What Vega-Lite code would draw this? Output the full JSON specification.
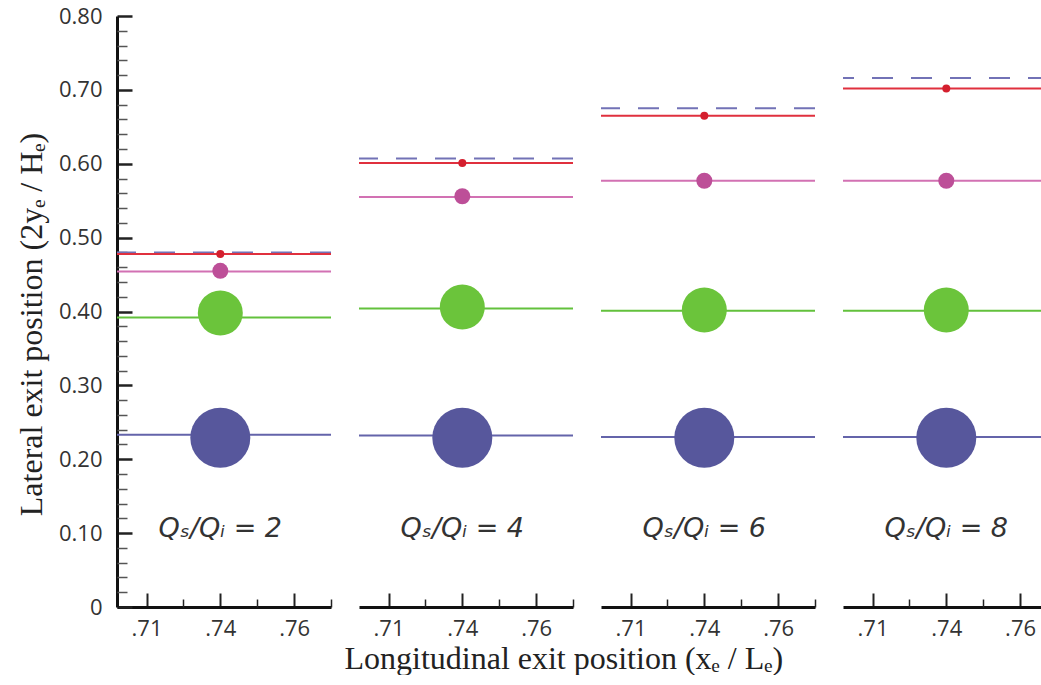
{
  "$schema": "https://vega.github.io/schema/vega-lite/v6.json",
  "padding": {"left": 15, "top": 5, "right": 0, "bottom": 0},
  "background": "white",
  "title": {"text": "Longitudinal exit position (xₑ / Lₑ)", "orient": "bottom", "anchor": "middle", "font": "Liberation Serif", "fontSize": 32, "fontWeight": "normal", "color": "#222", "offset": 5, "dx": 31},
  "datasets": {
    "lines": [
      {"ratio": 2, "series": "ref", "line": 0.480},
      {"ratio": 2, "series": "red", "line": 0.478, "dot": 0.478, "x": 0.735},
      {"ratio": 2, "series": "pink", "line": 0.454, "dot": 0.455, "x": 0.735},
      {"ratio": 2, "series": "green", "line": 0.392, "dot": 0.398, "x": 0.735},
      {"ratio": 2, "series": "blue", "line": 0.233, "dot": 0.229, "x": 0.735},
      {"ratio": 4, "series": "ref", "line": 0.607},
      {"ratio": 4, "series": "red", "line": 0.601, "dot": 0.601, "x": 0.735},
      {"ratio": 4, "series": "pink", "line": 0.555, "dot": 0.556, "x": 0.735},
      {"ratio": 4, "series": "green", "line": 0.404, "dot": 0.406, "x": 0.735},
      {"ratio": 4, "series": "blue", "line": 0.232, "dot": 0.229, "x": 0.735},
      {"ratio": 6, "series": "ref", "line": 0.675},
      {"ratio": 6, "series": "red", "line": 0.665, "dot": 0.665, "x": 0.735},
      {"ratio": 6, "series": "pink", "line": 0.577, "dot": 0.577, "x": 0.735},
      {"ratio": 6, "series": "green", "line": 0.401, "dot": 0.402, "x": 0.735},
      {"ratio": 6, "series": "blue", "line": 0.230, "dot": 0.229, "x": 0.735},
      {"ratio": 8, "series": "ref", "line": 0.716},
      {"ratio": 8, "series": "red", "line": 0.702, "dot": 0.702, "x": 0.735},
      {"ratio": 8, "series": "pink", "line": 0.577, "dot": 0.577, "x": 0.735},
      {"ratio": 8, "series": "green", "line": 0.401, "dot": 0.402, "x": 0.735},
      {"ratio": 8, "series": "blue", "line": 0.230, "dot": 0.229, "x": 0.735}
    ],
    "labels": [
      {"ratio": 2, "label": "Qₛ/Qᵢ = 2", "x": 0.735, "y": 0.105},
      {"ratio": 4, "label": "Qₛ/Qᵢ = 4", "x": 0.735, "y": 0.105},
      {"ratio": 6, "label": "Qₛ/Qᵢ = 6", "x": 0.735, "y": 0.105},
      {"ratio": 8, "label": "Qₛ/Qᵢ = 8", "x": 0.735, "y": 0.105}
    ]
  },
  "spacing": 26,
  "hconcat": [
    {
      "width": 214, "height": 591,
      "resolve": {"axis": {"x": "independent", "y": "independent"}},
      "layer": [
        {
          "data": {"name": "lines"},
          "transform": [{"filter": "datum.ratio == 2"}],
          "mark": {"type": "rule", "strokeWidth": 2},
          "encoding": {
            "y": {"field": "line", "type": "quantitative", "scale": {"domain": [0, 0.8]},
              "axis": {
                "orient": "left",
                "values": [0, 0.1, 0.2, 0.3, 0.4, 0.5, 0.6, 0.7, 0.8],
                "labelExpr": "datum.value == 0 ? '0' : format(datum.value, '.2f')",
                "labelOverlap": false,
                "labelFont": "Open Sans", "labelFontSize": 22, "labelColor": "#333",
                "labelPadding": 30,
                "tickSize": -15, "tickWidth": 2.5, "tickColor": "#222",
                "domainColor": "#111", "domainWidth": 3,
                "grid": false,
                "title": "Lateral exit position (2yₑ / Hₑ)",
                "titleFont": "Liberation Serif", "titleFontSize": 32, "titleFontWeight": "normal", "titleColor": "#222", "titlePadding": 10,
                "titleY": 308
              }},
            "stroke": {"field": "series", "type": "nominal", "legend": null,
              "scale": {"domain": ["ref", "red", "pink", "green", "blue"], "range": ["#7272b6", "#e0303e", "#d271b3", "#63c13c", "#6464aa"]}},
            "strokeDash": {"field": "series", "type": "nominal", "legend": null,
              "scale": {"domain": ["ref", "red", "pink", "green", "blue"], "range": [[21, 18], [1, 0], [1, 0], [1, 0], [1, 0]]}}
          }
        },
        {
          "data": {"name": "lines"},
          "transform": [{"filter": "datum.ratio == 2 && isValid(datum.dot)"}],
          "mark": {"type": "circle", "opacity": 1},
          "encoding": {
            "x": {"field": "x", "type": "quantitative", "scale": {"domain": [0.70, 0.7725]},
              "axis": {
                "orient": "bottom",
                "values": [0.71, 0.735, 0.76],
                "labelExpr": "abs(datum.value-0.71)<0.001 ? '.71' : abs(datum.value-0.735)<0.001 ? '.74' : '.76'",
                "labelOverlap": false,
                "labelFont": "Open Sans", "labelFontSize": 22, "labelColor": "#333",
                "labelPadding": 25,
                "tickSize": -14, "tickWidth": 2, "tickColor": "#222",
                "domainColor": "#111", "domainWidth": 3,
                "grid": false, "title": null
              }},
            "y": {"field": "dot", "type": "quantitative", "scale": {"domain": [0, 0.8]},
              "axis": {
                "orient": "left",
                "values": [0.02,0.04,0.06,0.08,0.12,0.14,0.16,0.18,0.22,0.24,0.26,0.28,0.32,0.34,0.36,0.38,0.42,0.44,0.46,0.48,0.52,0.54,0.56,0.58,0.62,0.64,0.66,0.68,0.72,0.74,0.76,0.78],
                "labels": false, "domain": false, "grid": false, "title": null,
                "tickSize": -10, "tickWidth": 1.5, "tickColor": "#555"
              }},
            "fill": {"field": "series", "type": "nominal", "legend": null,
              "scale": {"domain": ["red", "pink", "green", "blue"], "range": ["#d41f2e", "#bd4f98", "#6bc43b", "#57579c"]}},
            "size": {"field": "series", "type": "nominal", "legend": null,
              "scale": {"type": "ordinal", "domain": ["red", "pink", "green", "blue"], "range": [64, 256, 2025, 3600]}}
          }
        },
        {
          "data": {"name": "labels"},
          "transform": [{"filter": "datum.ratio == 2"}],
          "mark": {"type": "text", "font": "DejaVu Sans", "fontSize": 27, "fontStyle": "italic", "color": "#333", "align": "center", "baseline": "middle"},
          "encoding": {
            "x": {"field": "x", "type": "quantitative", "scale": {"domain": [0.70, 0.7725]},
              "axis": {
                "orient": "bottom",
                "values": [0.7225, 0.7475, 0.7725],
                "labels": false, "domain": false, "grid": false, "title": null,
                "tickSize": -8, "tickWidth": 1.5, "tickColor": "#222"
              }},
            "y": {"field": "y", "type": "quantitative", "scale": {"domain": [0, 0.8]}, "axis": null},
            "text": {"field": "label"}
          }
        }
      ]
    },
    {
      "width": 214, "height": 591,
      "resolve": {"axis": {"x": "independent", "y": "independent"}},
      "layer": [
        {
          "data": {"name": "lines"},
          "transform": [{"filter": "datum.ratio == 4"}],
          "mark": {"type": "rule", "strokeWidth": 2},
          "encoding": {
            "y": {"field": "line", "type": "quantitative", "scale": {"domain": [0, 0.8]}, "axis": null},
            "stroke": {"field": "series", "type": "nominal", "legend": null,
              "scale": {"domain": ["ref", "red", "pink", "green", "blue"], "range": ["#7272b6", "#e0303e", "#d271b3", "#63c13c", "#6464aa"]}},
            "strokeDash": {"field": "series", "type": "nominal", "legend": null,
              "scale": {"domain": ["ref", "red", "pink", "green", "blue"], "range": [[21, 18], [1, 0], [1, 0], [1, 0], [1, 0]]}}
          }
        },
        {
          "data": {"name": "lines"},
          "transform": [{"filter": "datum.ratio == 4 && isValid(datum.dot)"}],
          "mark": {"type": "circle", "opacity": 1},
          "encoding": {
            "x": {"field": "x", "type": "quantitative", "scale": {"domain": [0.70, 0.7725]},
              "axis": {
                "orient": "bottom",
                "values": [0.71, 0.735, 0.76],
                "labelExpr": "abs(datum.value-0.71)<0.001 ? '.71' : abs(datum.value-0.735)<0.001 ? '.74' : '.76'",
                "labelOverlap": false,
                "labelFont": "Open Sans", "labelFontSize": 22, "labelColor": "#333",
                "labelPadding": 25,
                "tickSize": -14, "tickWidth": 2, "tickColor": "#222",
                "domainColor": "#111", "domainWidth": 3,
                "grid": false, "title": null
              }},
            "y": {"field": "dot", "type": "quantitative", "scale": {"domain": [0, 0.8]}, "axis": null},
            "fill": {"field": "series", "type": "nominal", "legend": null,
              "scale": {"domain": ["red", "pink", "green", "blue"], "range": ["#d41f2e", "#bd4f98", "#6bc43b", "#57579c"]}},
            "size": {"field": "series", "type": "nominal", "legend": null,
              "scale": {"type": "ordinal", "domain": ["red", "pink", "green", "blue"], "range": [64, 256, 2025, 3600]}}
          }
        },
        {
          "data": {"name": "labels"},
          "transform": [{"filter": "datum.ratio == 4"}],
          "mark": {"type": "text", "font": "DejaVu Sans", "fontSize": 27, "fontStyle": "italic", "color": "#333", "align": "center", "baseline": "middle"},
          "encoding": {
            "x": {"field": "x", "type": "quantitative", "scale": {"domain": [0.70, 0.7725]},
              "axis": {
                "orient": "bottom",
                "values": [0.7225, 0.7475, 0.7725],
                "labels": false, "domain": false, "grid": false, "title": null,
                "tickSize": -8, "tickWidth": 1.5, "tickColor": "#222"
              }},
            "y": {"field": "y", "type": "quantitative", "scale": {"domain": [0, 0.8]}, "axis": null},
            "text": {"field": "label"}
          }
        }
      ]
    },
    {
      "width": 214, "height": 591,
      "resolve": {"axis": {"x": "independent", "y": "independent"}},
      "layer": [
        {
          "data": {"name": "lines"},
          "transform": [{"filter": "datum.ratio == 6"}],
          "mark": {"type": "rule", "strokeWidth": 2},
          "encoding": {
            "y": {"field": "line", "type": "quantitative", "scale": {"domain": [0, 0.8]}, "axis": null},
            "stroke": {"field": "series", "type": "nominal", "legend": null,
              "scale": {"domain": ["ref", "red", "pink", "green", "blue"], "range": ["#7272b6", "#e0303e", "#d271b3", "#63c13c", "#6464aa"]}},
            "strokeDash": {"field": "series", "type": "nominal", "legend": null,
              "scale": {"domain": ["ref", "red", "pink", "green", "blue"], "range": [[21, 18], [1, 0], [1, 0], [1, 0], [1, 0]]}}
          }
        },
        {
          "data": {"name": "lines"},
          "transform": [{"filter": "datum.ratio == 6 && isValid(datum.dot)"}],
          "mark": {"type": "circle", "opacity": 1},
          "encoding": {
            "x": {"field": "x", "type": "quantitative", "scale": {"domain": [0.70, 0.7725]},
              "axis": {
                "orient": "bottom",
                "values": [0.71, 0.735, 0.76],
                "labelExpr": "abs(datum.value-0.71)<0.001 ? '.71' : abs(datum.value-0.735)<0.001 ? '.74' : '.76'",
                "labelOverlap": false,
                "labelFont": "Open Sans", "labelFontSize": 22, "labelColor": "#333",
                "labelPadding": 25,
                "tickSize": -14, "tickWidth": 2, "tickColor": "#222",
                "domainColor": "#111", "domainWidth": 3,
                "grid": false, "title": null
              }},
            "y": {"field": "dot", "type": "quantitative", "scale": {"domain": [0, 0.8]}, "axis": null},
            "fill": {"field": "series", "type": "nominal", "legend": null,
              "scale": {"domain": ["red", "pink", "green", "blue"], "range": ["#d41f2e", "#bd4f98", "#6bc43b", "#57579c"]}},
            "size": {"field": "series", "type": "nominal", "legend": null,
              "scale": {"type": "ordinal", "domain": ["red", "pink", "green", "blue"], "range": [64, 256, 2025, 3600]}}
          }
        },
        {
          "data": {"name": "labels"},
          "transform": [{"filter": "datum.ratio == 6"}],
          "mark": {"type": "text", "font": "DejaVu Sans", "fontSize": 27, "fontStyle": "italic", "color": "#333", "align": "center", "baseline": "middle"},
          "encoding": {
            "x": {"field": "x", "type": "quantitative", "scale": {"domain": [0.70, 0.7725]},
              "axis": {
                "orient": "bottom",
                "values": [0.7225, 0.7475, 0.7725],
                "labels": false, "domain": false, "grid": false, "title": null,
                "tickSize": -8, "tickWidth": 1.5, "tickColor": "#222"
              }},
            "y": {"field": "y", "type": "quantitative", "scale": {"domain": [0, 0.8]}, "axis": null},
            "text": {"field": "label"}
          }
        }
      ]
    },
    {
      "width": 206, "height": 591,
      "resolve": {"axis": {"x": "independent", "y": "independent"}},
      "layer": [
        {
          "data": {"name": "lines"},
          "transform": [{"filter": "datum.ratio == 8"}],
          "mark": {"type": "rule", "strokeWidth": 2},
          "encoding": {
            "y": {"field": "line", "type": "quantitative", "scale": {"domain": [0, 0.8]}, "axis": null},
            "stroke": {"field": "series", "type": "nominal", "legend": null,
              "scale": {"domain": ["ref", "red", "pink", "green", "blue"], "range": ["#7272b6", "#e0303e", "#d271b3", "#63c13c", "#6464aa"]}},
            "strokeDash": {"field": "series", "type": "nominal", "legend": null,
              "scale": {"domain": ["ref", "red", "pink", "green", "blue"], "range": [[21, 18], [1, 0], [1, 0], [1, 0], [1, 0]]}}
          }
        },
        {
          "data": {"name": "lines"},
          "transform": [{"filter": "datum.ratio == 8 && isValid(datum.dot)"}],
          "mark": {"type": "circle", "opacity": 1},
          "encoding": {
            "x": {"field": "x", "type": "quantitative", "scale": {"domain": [0.70, 0.7698]},
              "axis": {
                "orient": "bottom",
                "values": [0.71, 0.735, 0.76],
                "labelExpr": "abs(datum.value-0.71)<0.001 ? '.71' : abs(datum.value-0.735)<0.001 ? '.74' : '.76'",
                "labelOverlap": false,
                "labelFont": "Open Sans", "labelFontSize": 22, "labelColor": "#333",
                "labelPadding": 25,
                "tickSize": -14, "tickWidth": 2, "tickColor": "#222",
                "domainColor": "#111", "domainWidth": 3,
                "grid": false, "title": null
              }},
            "y": {"field": "dot", "type": "quantitative", "scale": {"domain": [0, 0.8]}, "axis": null},
            "fill": {"field": "series", "type": "nominal", "legend": null,
              "scale": {"domain": ["red", "pink", "green", "blue"], "range": ["#d41f2e", "#bd4f98", "#6bc43b", "#57579c"]}},
            "size": {"field": "series", "type": "nominal", "legend": null,
              "scale": {"type": "ordinal", "domain": ["red", "pink", "green", "blue"], "range": [64, 256, 2025, 3600]}}
          }
        },
        {
          "data": {"name": "labels"},
          "transform": [{"filter": "datum.ratio == 8"}],
          "mark": {"type": "text", "font": "DejaVu Sans", "fontSize": 27, "fontStyle": "italic", "color": "#333", "align": "center", "baseline": "middle"},
          "encoding": {
            "x": {"field": "x", "type": "quantitative", "scale": {"domain": [0.70, 0.7698]},
              "axis": {
                "orient": "bottom",
                "values": [0.7225, 0.7475],
                "labels": false, "domain": false, "grid": false, "title": null,
                "tickSize": -8, "tickWidth": 1.5, "tickColor": "#222"
              }},
            "y": {"field": "y", "type": "quantitative", "scale": {"domain": [0, 0.8]}, "axis": null},
            "text": {"field": "label"}
          }
        }
      ]
    }
  ],
  "config": {"view": {"stroke": null}}
}
